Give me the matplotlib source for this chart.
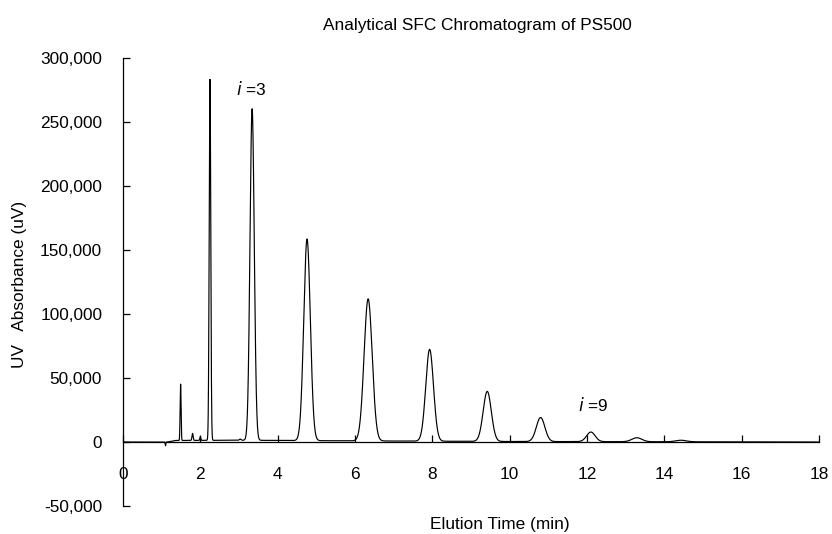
import numpy as np
import matplotlib
matplotlib.use("Agg")
import matplotlib.pyplot as plt
from matplotlib.ticker import FuncFormatter, MultipleLocator

plt.rcParams['font.family'] = ['Liberation Sans', 'DejaVu Sans']

# Peak table (retention time in min, height in uV, width sigma in min)
peak_times = [1.10, 1.49, 1.80, 2.00, 2.25, 3.03, 3.34, 4.76, 6.34, 7.93, 9.42, 10.80, 12.10, 13.29, 14.43]
peak_heights = [-3000, 44000, 5500, 3000, 282000, 900, 259000, 157500, 111000, 71700, 39100, 18800, 7500, 3100, 1200]
peak_sigmas = [0.008, 0.012, 0.015, 0.012, 0.02, 0.02, 0.055, 0.085, 0.105, 0.1, 0.105, 0.11, 0.11, 0.13, 0.14]

# Baseline drift knots
baseline_times = [0.0, 1.15, 1.35, 3.0, 6.0, 10.0, 18.0]
baseline_levels = [0, 0, 1200, 1400, 900, 400, 0]

annotations = [(2.93, 276000, "3"), (11.76, 28900, "9")]

title = "Analytical SFC Chromatogram of PS500"
xlabel = "Elution Time (min)"
ylabel = "UV   Absorbance (uV)"

t = np.linspace(0, 18, 9001)
signal = np.interp(t, baseline_times, baseline_levels).astype(float)
for c, h, s in zip(peak_times, peak_heights, peak_sigmas):
    signal += h * np.exp(-0.5 * ((t - c) / s) ** 2)

FS = 12.4
fig = plt.figure(figsize=(8.32, 5.34), dpi=100)
ax = fig.add_axes([0.1478, 0.0524, 0.8366, 0.839])

ax.plot(t, signal, color='black', lw=0.85)

ax.set_xlim(0, 18)
ax.set_ylim(-50000, 300000)
ax.xaxis.set_major_locator(MultipleLocator(2))
ax.yaxis.set_major_locator(MultipleLocator(50000))
ax.yaxis.set_major_formatter(FuncFormatter(lambda v, p: f"{v:,.0f}"))

ax.spines['top'].set_visible(False)
ax.spines['right'].set_visible(False)
ax.spines['bottom'].set_position(('data', 0))
ax.spines['bottom'].set_linewidth(0.9)
ax.spines['left'].set_linewidth(0.9)

ax.tick_params(axis='x', direction='in', length=5, width=0.9, labelsize=FS, pad=18)
ax.tick_params(axis='y', direction='in', length=5, width=0.9, labelsize=FS, pad=15)

for x, y, n in annotations:
    ax.text(x, y, r"$\mathit{i}$ =" + n, fontsize=FS, ha='left', va='center')

fig.text(0.5733, 0.953, title, ha='center', va='center', fontsize=FS)
fig.text(0.601, 0.018, xlabel, ha='center', va='center', fontsize=FS)
fig.text(0.023, 0.468, ylabel, ha='center', va='center', rotation=90, fontsize=FS)

fig.savefig("out.png", dpi=100)
